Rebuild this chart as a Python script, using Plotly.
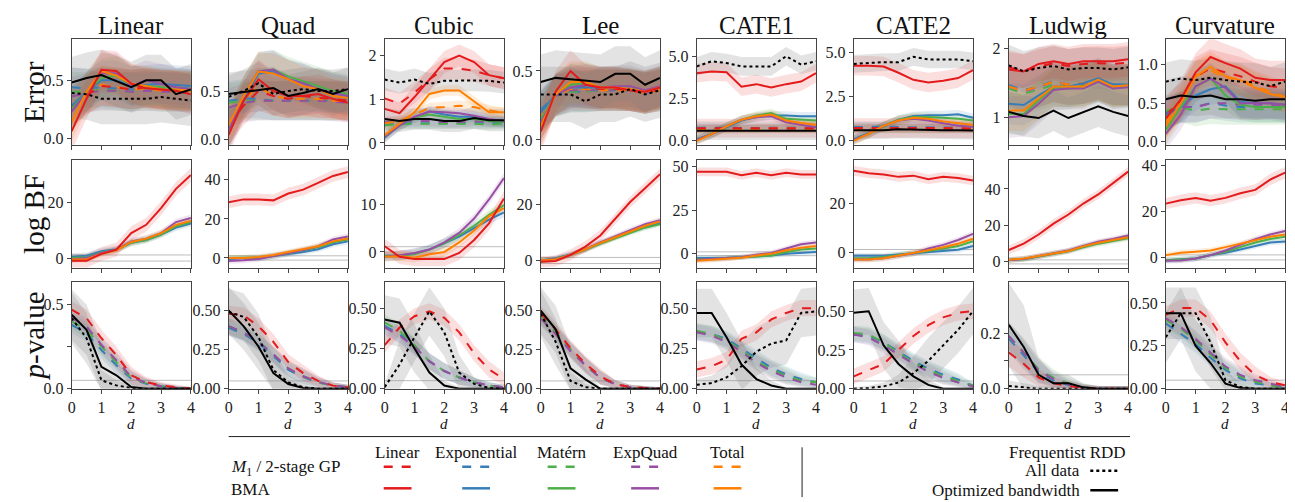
import plotly.graph_objects as go

W, H = 1295, 502
X = [0, 0.5, 1, 1.5, 2, 2.5, 3, 3.5, 4]
PANELS = ["Linear", "Quad", "Cubic", "Lee", "CATE1", "CATE2", "Ludwig", "Curvature"]
ROW_LABELS = ["Error", "log BF", "<i>p</i>-value"]

# ---------------- Error row ----------------
ERR_LINEAR = dict(
    lin_s=[0.06, 0.34, 0.59, 0.58, 0.47, 0.43, 0.42, 0.41, 0.38],
    lin_d=[0.28, 0.37, 0.45, 0.44, 0.42, 0.44, 0.42, 0.41, 0.41],
    exp_s=[0.28, 0.40, 0.50, 0.50, 0.45, 0.46, 0.47, 0.46, 0.45],
    exp_d=[0.44, 0.43, 0.44, 0.43, 0.42, 0.43, 0.43, 0.43, 0.43],
    mat_s=[0.25, 0.40, 0.52, 0.54, 0.45, 0.45, 0.44, 0.42, 0.41],
    mat_d=[0.40, 0.40, 0.42, 0.41, 0.40, 0.41, 0.40, 0.40, 0.40],
    eq_s=[0.23, 0.40, 0.56, 0.56, 0.45, 0.50, 0.47, 0.44, 0.42],
    eq_d=[0.36, 0.39, 0.41, 0.41, 0.40, 0.41, 0.40, 0.40, 0.39],
    tot_s=[0.14, 0.40, 0.58, 0.54, 0.47, 0.45, 0.42, 0.42, 0.41],
    tot_d=[0.26, 0.38, 0.46, 0.44, 0.42, 0.43, 0.41, 0.41, 0.40],
    all=[0.39, 0.38, 0.34, 0.34, 0.34, 0.34, 0.355, 0.34, 0.325],
    opt=[0.48, 0.52, 0.545, 0.49, 0.44, 0.50, 0.50, 0.38, 0.42],
)
ERR_QUAD = dict(
    lin_s=[0.05, 0.40, 0.62, 0.50, 0.45, 0.45, 0.47, 0.42, 0.38],
    lin_d=[0.15, 0.35, 0.50, 0.45, 0.42, 0.45, 0.43, 0.42, 0.40],
    exp_s=[0.10, 0.40, 0.68, 0.70, 0.62, 0.58, 0.52, 0.48, 0.45],
    exp_d=[0.40, 0.42, 0.42, 0.40, 0.40, 0.40, 0.40, 0.40, 0.40],
    mat_s=[0.12, 0.45, 0.70, 0.72, 0.65, 0.60, 0.55, 0.50, 0.47],
    mat_d=[0.38, 0.40, 0.40, 0.40, 0.40, 0.40, 0.40, 0.40, 0.40],
    eq_s=[0.10, 0.45, 0.70, 0.72, 0.62, 0.58, 0.52, 0.48, 0.45],
    eq_d=[0.33, 0.38, 0.40, 0.40, 0.40, 0.40, 0.40, 0.39, 0.38],
    tot_s=[0.15, 0.45, 0.70, 0.68, 0.62, 0.55, 0.52, 0.45, 0.43],
    tot_d=[0.15, 0.40, 0.55, 0.45, 0.42, 0.42, 0.42, 0.40, 0.40],
    all=[0.44, 0.50, 0.58, 0.47, 0.50, 0.52, 0.50, 0.50, 0.52],
    opt=[0.47, 0.49, 0.51, 0.53, 0.45, 0.48, 0.52, 0.47, 0.52],
)
ERR_CUBIC = dict(
    lin_s=[0.78, 0.68, 1.05, 1.45, 1.85, 2.00, 1.85, 1.55, 1.48],
    lin_d=[1.02, 0.90, 1.15, 1.45, 1.70, 1.70, 1.65, 1.55, 1.48],
    exp_s=[0.12, 0.40, 0.58, 0.72, 0.65, 0.60, 0.60, 0.50, 0.48],
    exp_d=[0.42, 0.45, 0.45, 0.45, 0.45, 0.45, 0.45, 0.45, 0.45],
    mat_s=[0.15, 0.42, 0.58, 0.65, 0.60, 0.55, 0.55, 0.50, 0.48],
    mat_d=[0.40, 0.44, 0.44, 0.44, 0.44, 0.44, 0.44, 0.42, 0.44],
    eq_s=[0.15, 0.40, 0.60, 0.72, 0.70, 0.68, 0.62, 0.55, 0.50],
    eq_d=[0.48, 0.50, 0.50, 0.50, 0.48, 0.48, 0.50, 0.48, 0.48],
    tot_s=[0.18, 0.45, 0.70, 1.12, 1.20, 1.20, 0.95, 0.70, 0.70],
    tot_d=[0.45, 0.50, 0.65, 0.80, 0.82, 0.85, 0.82, 0.75, 0.68],
    all=[1.45, 1.38, 1.45, 1.35, 1.42, 1.43, 1.43, 1.42, 1.38],
    opt=[0.55, 0.50, 0.55, 0.55, 0.50, 0.50, 0.57, 0.52, 0.52],
)
ERR_LEE = dict(
    lin_s=[0.06, 0.35, 0.50, 0.40, 0.38, 0.38, 0.36, 0.35, 0.38],
    lin_d=[0.15, 0.33, 0.40, 0.38, 0.37, 0.37, 0.36, 0.34, 0.37],
    exp_s=[0.20, 0.33, 0.38, 0.38, 0.38, 0.38, 0.37, 0.35, 0.38],
    exp_d=[0.22, 0.32, 0.35, 0.35, 0.36, 0.36, 0.36, 0.34, 0.36],
    mat_s=[0.15, 0.33, 0.40, 0.41, 0.38, 0.38, 0.37, 0.35, 0.38],
    mat_d=[0.20, 0.32, 0.35, 0.35, 0.36, 0.36, 0.36, 0.34, 0.36],
    eq_s=[0.12, 0.33, 0.38, 0.40, 0.38, 0.39, 0.39, 0.36, 0.39],
    eq_d=[0.20, 0.32, 0.36, 0.36, 0.36, 0.36, 0.36, 0.34, 0.36],
    tot_s=[0.10, 0.33, 0.42, 0.42, 0.38, 0.38, 0.37, 0.35, 0.38],
    tot_d=[0.16, 0.32, 0.37, 0.37, 0.36, 0.36, 0.36, 0.34, 0.36],
    all=[0.33, 0.33, 0.33, 0.28, 0.33, 0.33, 0.37, 0.33, 0.36],
    opt=[0.42, 0.45, 0.44, 0.43, 0.42, 0.48, 0.48, 0.40, 0.45],
)
ERR_CATE1 = dict(
    lin_s=[4.00, 4.10, 4.05, 3.20, 3.35, 3.15, 3.35, 3.50, 4.00],
    lin_d=[0.75, 0.75, 0.72, 0.72, 0.72, 0.74, 0.76, 0.74, 0.74],
    exp_s=[0.10, 0.40, 0.80, 1.20, 1.40, 1.50, 1.50, 1.45, 1.45],
    exp_d=[0.78, 0.80, 0.78, 0.76, 0.76, 0.78, 0.80, 0.78, 0.78],
    mat_s=[0.05, 0.40, 0.85, 1.25, 1.50, 1.65, 1.30, 1.25, 1.20],
    mat_d=[0.70, 0.70, 0.70, 0.68, 0.68, 0.70, 0.72, 0.70, 0.70],
    eq_s=[0.05, 0.40, 0.85, 1.25, 1.40, 1.45, 1.10, 0.95, 0.80],
    eq_d=[0.72, 0.72, 0.70, 0.70, 0.70, 0.72, 0.74, 0.72, 0.72],
    tot_s=[0.00, 0.40, 0.85, 1.25, 1.45, 1.55, 1.20, 1.05, 0.95],
    tot_d=[0.65, 0.68, 0.70, 0.68, 0.70, 0.72, 0.75, 0.72, 0.72],
    all=[4.40, 4.70, 4.60, 4.40, 4.40, 4.40, 5.00, 4.50, 4.70],
    opt=[0.60, 0.60, 0.60, 0.58, 0.58, 0.60, 0.60, 0.60, 0.60],
)
ERR_CATE2 = dict(
    lin_s=[4.25, 4.25, 4.20, 3.85, 3.45, 3.30, 3.40, 3.55, 4.00],
    lin_d=[0.72, 0.74, 0.72, 0.72, 0.74, 0.72, 0.72, 0.72, 0.70],
    exp_s=[0.10, 0.45, 0.80, 1.20, 1.40, 1.45, 1.45, 1.50, 1.30],
    exp_d=[0.78, 0.80, 0.80, 0.78, 0.78, 0.76, 0.76, 0.76, 0.74],
    mat_s=[0.05, 0.40, 0.85, 1.20, 1.35, 1.35, 1.30, 1.25, 1.15],
    mat_d=[0.68, 0.70, 0.70, 0.70, 0.70, 0.70, 0.68, 0.68, 0.68],
    eq_s=[0.05, 0.40, 0.85, 1.15, 1.25, 1.15, 1.00, 0.85, 0.80],
    eq_d=[0.72, 0.72, 0.72, 0.72, 0.72, 0.70, 0.70, 0.70, 0.70],
    tot_s=[0.00, 0.40, 0.85, 1.15, 1.30, 1.25, 1.10, 1.00, 0.90],
    tot_d=[0.66, 0.70, 0.72, 0.72, 0.74, 0.72, 0.72, 0.70, 0.70],
    all=[4.35, 4.40, 4.45, 4.45, 4.75, 4.60, 4.60, 4.60, 4.50],
    opt=[0.60, 0.60, 0.60, 0.65, 0.62, 0.60, 0.60, 0.60, 0.58],
)
ERR_LUDWIG = dict(
    lin_s=[1.70, 1.67, 1.78, 1.82, 1.78, 1.82, 1.82, 1.82, 1.85],
    lin_d=[1.73, 1.68, 1.74, 1.79, 1.75, 1.78, 1.79, 1.78, 1.80],
    exp_s=[1.20, 1.18, 1.32, 1.45, 1.45, 1.50, 1.57, 1.48, 1.48],
    exp_d=[1.47, 1.40, 1.45, 1.53, 1.48, 1.50, 1.55, 1.48, 1.48],
    mat_s=[1.05, 1.05, 1.25, 1.42, 1.42, 1.45, 1.53, 1.43, 1.45],
    mat_d=[1.42, 1.35, 1.40, 1.48, 1.45, 1.47, 1.52, 1.45, 1.46],
    eq_s=[1.00, 1.02, 1.20, 1.40, 1.42, 1.42, 1.52, 1.42, 1.44],
    eq_d=[1.45, 1.38, 1.44, 1.52, 1.48, 1.49, 1.54, 1.47, 1.47],
    tot_s=[1.10, 1.10, 1.28, 1.45, 1.45, 1.45, 1.55, 1.45, 1.47],
    tot_d=[1.45, 1.39, 1.45, 1.52, 1.48, 1.50, 1.55, 1.47, 1.48],
    all=[1.76, 1.67, 1.72, 1.75, 1.70, 1.72, 1.72, 1.70, 1.73],
    opt=[1.08, 1.02, 0.99, 1.10, 0.99, 1.08, 1.16, 1.08, 1.02],
)
ERR_CURVATURE = dict(
    lin_s=[0.30, 0.55, 0.90, 1.10, 1.02, 0.95, 0.83, 0.80, 0.80],
    lin_d=[0.35, 0.52, 0.85, 0.95, 0.90, 0.85, 0.78, 0.72, 0.70],
    exp_s=[0.35, 0.45, 0.60, 0.68, 0.72, 0.52, 0.50, 0.50, 0.48],
    exp_d=[0.38, 0.45, 0.45, 0.50, 0.47, 0.45, 0.45, 0.45, 0.45],
    mat_s=[0.15, 0.45, 0.72, 0.82, 0.60, 0.48, 0.45, 0.45, 0.45],
    mat_d=[0.40, 0.45, 0.40, 0.43, 0.42, 0.42, 0.42, 0.42, 0.42],
    eq_s=[0.10, 0.35, 0.72, 0.82, 0.70, 0.50, 0.50, 0.50, 0.48],
    eq_d=[0.35, 0.45, 0.45, 0.50, 0.50, 0.48, 0.48, 0.48, 0.45],
    tot_s=[0.20, 0.50, 0.85, 0.97, 0.85, 0.80, 0.70, 0.62, 0.58],
    tot_d=[0.25, 0.55, 0.85, 0.93, 0.82, 0.82, 0.72, 0.65, 0.58],
    all=[0.78, 0.82, 0.80, 0.83, 0.80, 0.78, 0.77, 0.72, 0.78],
    opt=[0.55, 0.60, 0.58, 0.60, 0.55, 0.55, 0.53, 0.55, 0.55],
)

# ---------------- log BF row (BMA only) ----------------
BF_LINEAR = dict(
    lin_s=[-1, -1, 1.5, 3, 9, 12, 18, 25, 30],
    exp_s=[0.5, 0.8, 2.5, 3.2, 5.5, 6.5, 8.5, 11, 12.5],
    mat_s=[0, 0.3, 2, 3, 5.5, 6.5, 8.5, 11.5, 13],
    eq_s=[-0.5, 0, 1.8, 3, 6, 7, 9, 13, 14.5],
    tot_s=[-0.5, -0.5, 1.5, 2.8, 5.8, 7, 9, 12, 13.5],
)
BF_QUAD = dict(
    lin_s=[28.5, 30, 30, 29.5, 33, 35, 38.5, 42, 44],
    exp_s=[-0.5, 0, 0, 1, 2, 3, 4.5, 7, 8.5],
    mat_s=[0, 0, 0.3, 1, 2.5, 4, 5.5, 8, 9.5],
    eq_s=[-1.5, -1.2, -0.5, 1, 2.5, 4, 6, 9.5, 11],
    tot_s=[0, 0, 0.5, 1.5, 3, 4.5, 6, 8.5, 10],
)
BF_CUBIC = dict(
    lin_s=[1.2, -1.0, -1.5, -1.5, -1.5, -0.2, 2.5, 6, 11.2],
    exp_s=[-0.8, -0.8, -0.3, 0.5, 1.8, 3.2, 5, 6.8, 8.3],
    mat_s=[-0.8, -0.8, -0.5, 0.5, 1.8, 3.5, 5.5, 7.8, 9.8],
    eq_s=[-1, -0.7, -0.2, 0.5, 2, 4, 7, 11, 15.5],
    tot_s=[-1, -0.9, -1.2, -0.5, 0, 2, 4.5, 7.5, 9.2],
)
BF_LEE = dict(
    lin_s=[-0.5, -0.2, 2, 5, 9, 15, 21, 26, 31],
    exp_s=[0, 0.8, 2.2, 4, 6.3, 8.3, 10.3, 12, 13.5],
    mat_s=[0, 0.6, 2, 3.8, 6, 8, 10, 11.8, 13],
    eq_s=[0, 0.5, 2, 4, 6.5, 8.7, 10.8, 13, 14.5],
    tot_s=[0, 0.4, 2, 4, 6.3, 8.4, 10.5, 12.5, 14],
)
BF_CATE1 = dict(
    lin_s=[47, 47, 47, 45, 46.5, 45, 46.5, 45.5, 45.5],
    exp_s=[-2.5, -2.5, -2.3, -2, -1.5, -1, 0, 0.5, 1],
    mat_s=[-3, -3, -2.5, -2, -1.5, -1, 1, 2.5, 3],
    eq_s=[-3.5, -3, -2.5, -2, -0.5, 0.5, 3, 5.5, 6.5],
    tot_s=[-4, -3.5, -3, -2.3, -1, 0, 2, 3.5, 4.5],
)
BF_CATE2 = dict(
    lin_s=[33.5, 32.5, 32, 31, 31.5, 30, 31, 30.5, 29.5],
    exp_s=[-1.5, -1.5, -1.5, -1, -0.5, 0, 0.5, 1, 2.5],
    mat_s=[-2.5, -2.5, -2, -1.2, -0.5, 0.5, 1.5, 2.5, 4.5],
    eq_s=[-3, -3, -2.5, -1.5, -0.5, 1.5, 3, 5, 7.5],
    tot_s=[-3, -3, -2.5, -1.5, -0.5, 0.8, 2, 3.5, 5.5],
)
BF_LUDWIG = dict(
    lin_s=[6.5, 10, 15, 21, 26, 32, 37, 43, 49.5],
    exp_s=[1, 1.7, 3, 4.5, 6, 8.5, 10.5, 12, 13.5],
    mat_s=[1, 1.5, 3, 4.3, 5.8, 8, 10, 11.5, 13],
    eq_s=[1, 1.6, 3.2, 4.7, 6.3, 8.8, 11, 12.5, 14.5],
    tot_s=[1.2, 1.8, 3.2, 4.6, 6, 8.5, 10.5, 12, 13.5],
)
BF_CURVATURE = dict(
    lin_s=[23.5, 25, 26, 24.8, 26, 28, 29.5, 34, 37],
    exp_s=[-1.2, -1, -0.5, 1, 2, 3.5, 5, 6.5, 7],
    mat_s=[-1.2, -1, -0.5, 1, 2.5, 4.5, 6.5, 8, 9],
    eq_s=[-1.5, -1.3, -0.5, 1, 3, 5.5, 8, 10, 11.5],
    tot_s=[1, 2, 2.5, 3, 4.5, 6, 7.5, 9, 10],
)

# ---------------- p-value row ----------------
PV_LINEAR = dict(
    lin_d=[0.47, 0.42, 0.30, 0.20, 0.08, 0.04, 0.02, 0.01, 0.0],
    exp_d=[0.38, 0.33, 0.23, 0.14, 0.06, 0.03, 0.015, 0.005, 0.0],
    mat_d=[0.40, 0.35, 0.25, 0.16, 0.065, 0.033, 0.015, 0.005, 0.0],
    eq_d=[0.42, 0.37, 0.26, 0.17, 0.07, 0.035, 0.015, 0.005, 0.0],
    all=[0.42, 0.30, 0.05, 0.02, 0.005, 0, 0, 0, 0],
    opt=[0.44, 0.35, 0.13, 0.08, 0.01, 0, 0, 0, 0],
)
PV_QUAD = dict(
    lin_d=[0.48, 0.47, 0.40, 0.30, 0.17, 0.10, 0.05, 0.02, 0.01],
    exp_d=[0.39, 0.35, 0.29, 0.21, 0.12, 0.075, 0.04, 0.02, 0.01],
    mat_d=[0.40, 0.36, 0.30, 0.22, 0.13, 0.08, 0.04, 0.02, 0.01],
    eq_d=[0.40, 0.36, 0.30, 0.22, 0.13, 0.08, 0.045, 0.02, 0.01],
    all=[0.49, 0.46, 0.33, 0.12, 0.04, 0.01, 0, 0, 0],
    opt=[0.50, 0.40, 0.27, 0.10, 0.03, 0.005, 0, 0, 0],
)
PV_CUBIC = dict(
    lin_d=[0.27, 0.38, 0.45, 0.48, 0.44, 0.35, 0.22, 0.12, 0.06],
    exp_d=[0.39, 0.34, 0.26, 0.17, 0.11, 0.07, 0.04, 0.02, 0.01],
    mat_d=[0.41, 0.36, 0.27, 0.17, 0.11, 0.07, 0.04, 0.02, 0.01],
    eq_d=[0.38, 0.33, 0.26, 0.17, 0.11, 0.07, 0.04, 0.02, 0.01],
    all=[0.01, 0.15, 0.32, 0.48, 0.35, 0.10, 0.03, 0.005, 0],
    opt=[0.43, 0.41, 0.25, 0.10, 0.02, 0, 0, 0, 0],
)
PV_LEE = dict(
    lin_d=[0.48, 0.38, 0.26, 0.16, 0.08, 0.03, 0.01, 0.005, 0],
    exp_d=[0.46, 0.36, 0.25, 0.15, 0.07, 0.03, 0.01, 0.005, 0],
    mat_d=[0.46, 0.36, 0.25, 0.15, 0.07, 0.03, 0.01, 0.005, 0],
    eq_d=[0.45, 0.35, 0.24, 0.15, 0.07, 0.03, 0.01, 0.005, 0],
    all=[0.48, 0.30, 0.05, 0.01, 0, 0, 0, 0, 0],
    opt=[0.50, 0.38, 0.13, 0.06, 0, 0, 0, 0, 0],
)
PV_CATE1 = dict(
    lin_d=[0.12, 0.14, 0.18, 0.31, 0.35, 0.43, 0.47, 0.50, 0.50],
    exp_d=[0.35, 0.34, 0.31, 0.25, 0.19, 0.13, 0.09, 0.06, 0.04],
    mat_d=[0.36, 0.34, 0.30, 0.24, 0.17, 0.12, 0.08, 0.05, 0.04],
    eq_d=[0.35, 0.33, 0.29, 0.23, 0.16, 0.11, 0.07, 0.04, 0.025],
    all=[0.025, 0.035, 0.07, 0.14, 0.23, 0.28, 0.30, 0.47, 0.48],
    opt=[0.47, 0.47, 0.32, 0.15, 0.06, 0.02, 0, 0, 0],
)
PV_CATE2 = dict(
    lin_d=[0.08, 0.12, 0.16, 0.25, 0.34, 0.41, 0.46, 0.49, 0.50],
    exp_d=[0.35, 0.34, 0.30, 0.24, 0.18, 0.13, 0.09, 0.06, 0.02],
    mat_d=[0.36, 0.35, 0.30, 0.23, 0.17, 0.12, 0.08, 0.05, 0.02],
    eq_d=[0.35, 0.33, 0.28, 0.22, 0.16, 0.11, 0.07, 0.04, 0.015],
    all=[0, 0.005, 0.015, 0.04, 0.10, 0.18, 0.28, 0.38, 0.50],
    opt=[0.49, 0.50, 0.28, 0.16, 0.08, 0.025, 0, 0, 0],
)
PV_LUDWIG = dict(
    lin_d=[0.13, 0.09, 0.04, 0.02, 0.01, 0.003, 0, 0, 0],
    exp_d=[0.18, 0.12, 0.06, 0.03, 0.013, 0.004, 0, 0, 0],
    mat_d=[0.19, 0.13, 0.07, 0.04, 0.02, 0.005, 0, 0, 0],
    eq_d=[0.19, 0.13, 0.065, 0.035, 0.015, 0.004, 0, 0, 0],
    all=[0.01, 0.005, 0, 0, 0, 0, 0, 0, 0],
    opt=[0.23, 0.15, 0.05, 0.02, 0.02, 0.005, 0, 0, 0],
)
PV_CURVATURE = dict(
    lin_d=[0.43, 0.47, 0.47, 0.40, 0.27, 0.16, 0.08, 0.04, 0.02],
    exp_d=[0.38, 0.32, 0.26, 0.18, 0.11, 0.06, 0.03, 0.02, 0.01],
    mat_d=[0.40, 0.35, 0.28, 0.20, 0.12, 0.07, 0.04, 0.02, 0.01],
    eq_d=[0.41, 0.36, 0.29, 0.21, 0.13, 0.08, 0.05, 0.03, 0.01],
    all=[0.30, 0.44, 0.44, 0.27, 0.05, 0.01, 0, 0, 0],
    opt=[0.44, 0.44, 0.25, 0.15, 0.03, 0.005, 0, 0, 0],
)

ERR = [ERR_LINEAR, ERR_QUAD, ERR_CUBIC, ERR_LEE, ERR_CATE1, ERR_CATE2, ERR_LUDWIG, ERR_CURVATURE]
BF = [BF_LINEAR, BF_QUAD, BF_CUBIC, BF_LEE, BF_CATE1, BF_CATE2, BF_LUDWIG, BF_CURVATURE]
PV = [PV_LINEAR, PV_QUAD, PV_CUBIC, PV_LEE, PV_CATE1, PV_CATE2, PV_LUDWIG, PV_CURVATURE]

# band half-widths: error (colored, red, black), logBF (colored, red), p (colored cap, black cap)
ERR_BAND = [(0.17, 0.17, 0.22), (0.2, 0.2, 0.22), (0.12, 0.25, 0.25), (0.15, 0.15, 0.2),
            (0.25, 0.55, 0.55), (0.25, 0.55, 0.5), (0.3, 0.25, 0.3), (0.2, 0.25, 0.25)]
BF_BAND = [(1.2, 2.5), (1.5, 3.0), (1.0, 1.5), (1.0, 2.0), (1.5, 2.5), (1.2, 2.0), (1.5, 2.5), (1.2, 2.5)]
PV_BAND = (0.05, 0.15)

# axis ranges and ticks (labelled ticks, plus unlabelled minor ticks)
ERR_RANGE = [[-0.056, 0.853], [-0.05, 1.03], [-0.04, 2.37], [-0.035, 0.73],
             [-0.23, 6.0], [-0.22, 5.74], [0.6, 2.14], [-0.04, 1.33]]
ERR_TICKS = [([0, 0.5], ["0.0", "0.5"]), ([0, 0.5], ["0.0", "0.5"]), ([0, 1, 2], ["0", "1", "2"]),
             ([0, 0.5], ["0.0", "0.5"]), ([0, 2.5, 5], ["0.0", "2.5", "5.0"]),
             ([0, 2.5, 5], ["0.0", "2.5", "5.0"]), ([1, 2], ["1", "2"]),
             ([0, 0.5, 1], ["0.0", "0.5", "1.0"])]
BF_RANGE = [[-3.5, 35.3], [-5, 50], [-3.3, 19.2], [-2.6, 36], [-8, 53.6], [-6.4, 37.8],
            [-3.2, 55.7], [-4.5, 42.4]]
BF_TICKS = [([0, 20], ["0", "20"]), ([0, 20, 40], ["0", "20", "40"]), ([0, 10], ["0", "10"]),
            ([0, 20], ["0", "20"]), ([0, 25, 50], ["0", "25", "50"]), ([0, 20], ["0", "20"]),
            ([0, 20, 40], ["0", "20", "40"]), ([0, 20, 40], ["0", "20", "40"])]
PV_RANGE = [[0, 0.632], [0, 0.68], [0, 0.66], [0, 0.68], [0, 0.66], [0, 0.686], [0, 0.382], [0, 0.62]]
P2 = ([0, 0.25, 0.5], ["0.00", "0.25", "0.50"])
PV_TICKS = [([0, 0.5], ["0.0", "0.5"]), P2, P2, P2, P2, P2, ([0, 0.2], ["0.0", "0.2"]), P2]
PV_MINOR = {0: [0.25], 6: [0.1]}
X_TICKS = [0, 1, 2, 3, 4]
BF_THRESH = [-1.1, 1.1]
P_THRESH = 0.05

COLORS = {"lin": "#e41a1c", "exp": "#377eb8", "mat": "#4daf4a", "eq": "#984ea3", "tot": "#ff7f00"}
ORDER = ["exp_d", "mat_d", "eq_d", "tot_d", "lin_d",
         "exp_s", "mat_s", "eq_s", "tot_s", "lin_s", "all", "opt"]

LEG_MODELS = [("Linear", "lin"), ("Exponential", "exp"), ("Matérn", "mat"),
              ("ExpQuad", "eq"), ("Total", "tot")]

FONT = "Liberation Serif"


def rgba(hexc, a):
    h = hexc.lstrip("#")
    return "rgba(%d,%d,%d,%.3f)" % (int(h[0:2], 16), int(h[2:4], 16), int(h[4:6], 16), a)


def style(key):
    if key == "all":
        return "#000000", "dot"
    if key == "opt":
        return "#000000", "solid"
    fam, kind = key.split("_")
    return COLORS[fam], ("dash" if kind == "d" else "solid")


def halfwidth(row, col, key, y):
    black = key in ("all", "opt")
    if row == 0:
        c, r, b = ERR_BAND[col]
        h = b if black else (r if key.startswith("lin") else c)
        return [h] * len(y)
    if row == 1:
        c, r = BF_BAND[col]
        return [r if key.startswith("lin") else c] * len(y)
    cap = PV_BAND[1] if black else PV_BAND[0]
    k = 1.0 if black else 0.5
    return [min(cap, k * v + 0.01) for v in y]


COL_L = [60, 218, 375, 532, 689, 847, 1003, 1161]
PW = 120
ROW_T = [29, 153, 278]
ROW_B = [137, 263, 387]

fig = go.Figure()
layout = {}
shapes = []
annotations = []

ROWS = [ERR, BF, PV]
RANGES = [ERR_RANGE, BF_RANGE, PV_RANGE]
TICKS = [ERR_TICKS, BF_TICKS, PV_TICKS]

for r in range(3):
    for c in range(8):
        n = r * 8 + c + 1
        xs = "x" if n == 1 else "x%d" % n
        ys = "y" if n == 1 else "y%d" % n
        data = ROWS[r][c]
        keys = [k for k in ORDER if k in data]
        # bands
        for k in keys:
            y = data[k]
            hw = halfwidth(r, c, k, y)
            up = [v + h for v, h in zip(y, hw)]
            lo = [v - h for v, h in zip(y, hw)]
            col, _ = style(k)
            fill = rgba("#808080", 0.22) if k in ("all", "opt") else rgba(col, 0.14)
            fig.add_trace(go.Scatter(x=X + X[::-1], y=up + lo[::-1], fill="toself",
                                     fillcolor=fill, line=dict(width=0), mode="lines",
                                     hoverinfo="skip", showlegend=False, xaxis=xs, yaxis=ys))
        # lines
        for k in keys:
            col, dash = style(k)
            fig.add_trace(go.Scatter(x=X, y=data[k], mode="lines",
                                     line=dict(color=col, dash=dash, width=2),
                                     showlegend=False, hoverinfo="skip", xaxis=xs, yaxis=ys))
        # threshold lines
        thr = BF_THRESH if r == 1 else ([P_THRESH] if r == 2 else [])
        for t in thr:
            shapes.append(dict(type="line", xref="%s domain" % xs, yref=ys, x0=0, x1=1, y0=t, y1=t,
                               line=dict(color="#bdbdbd", width=1), layer="below"))

        xd = [COL_L[c] / W, (COL_L[c] + PW) / W]
        yd = [1 - ROW_B[r] / H, 1 - ROW_T[r] / H]
        tv, tt = TICKS[r][c]
        axcommon = dict(showgrid=False, zeroline=False, showline=True, linecolor="#444",
                        linewidth=1, mirror=True, ticks="outside", ticklen=4, tickcolor="#444",
                        tickfont=dict(family=FONT, size=16, color="#222"))
        layout["xaxis" if n == 1 else "xaxis%d" % n] = dict(
            domain=xd, range=[0, 4], anchor=ys, tickvals=X_TICKS,
            showticklabels=(r == 2), **axcommon)
        yax = dict(domain=yd, range=RANGES[r][c], anchor=xs, tickvals=tv, ticktext=tt, **axcommon)
        if r == 2 and c in PV_MINOR:
            yax["minor"] = dict(tickvals=PV_MINOR[c], ticks="outside", ticklen=4,
                                tickcolor="#444", showgrid=False)
        layout["yaxis" if n == 1 else "yaxis%d" % n] = yax

# column titles
for c, name in enumerate(PANELS):
    annotations.append(dict(text=name, x=(COL_L[c] + PW / 2) / W, y=1 - 15 / H, xref="paper",
                            yref="paper", showarrow=False, xanchor="center", yanchor="middle",
                            font=dict(family=FONT, size=25, color="#111")))
    annotations.append(dict(text="<i>d</i>", x=(COL_L[c] + PW / 2) / W, y=1 - 413 / H,
                            xref="paper", yref="paper", showarrow=False, xanchor="center",
                            yanchor="top", font=dict(family=FONT, size=15, color="#111")))
# row labels
for r, lab in enumerate(ROW_LABELS):
    annotations.append(dict(text=lab, x=22 / W, y=1 - (ROW_T[r] + ROW_B[r]) / 2 / H, xref="paper",
                            yref="paper", showarrow=False, textangle=-90, xanchor="center",
                            yanchor="middle", font=dict(family=FONT, size=29, color="#111")))


# legend
def pl(x0, y0, x1, y1, color="#222", width=1, dash="solid"):
    shapes.append(dict(type="line", xref="paper", yref="paper", x0=x0 / W, x1=x1 / W,
                       y0=1 - y0 / H, y1=1 - y1 / H, line=dict(color=color, width=width, dash=dash)))


def ptext(t, x, y, anchor="center", size=17):
    annotations.append(dict(text=t, x=x / W, y=1 - y / H, xref="paper", yref="paper",
                            showarrow=False, xanchor=anchor, yanchor="middle",
                            font=dict(family=FONT, size=size, color="#111")))


pl(218, 436, 1125, 436, width=1)
pl(795, 447, 795, 498, width=1)
LEG_X = [388, 467, 553, 637, 720]
for (name, fam), cx in zip(LEG_MODELS, LEG_X):
    ptext(name, cx, 452)
    pl(cx - 14, 467, cx + 14, 467, color=COLORS[fam], width=2.5, dash="dash")
    pl(cx - 14, 489, cx + 14, 489, color=COLORS[fam], width=2.5)
ptext("<i>M</i><sub>1</sub> / 2-stage GP", 218, 468, anchor="left")
ptext("BMA", 218, 490, anchor="left")
ptext("Frequentist RDD", 1062, 452)
ptext("All data", 1077, 471, anchor="right")
ptext("Optimized bandwidth", 1077, 491, anchor="right")
pl(1085, 471, 1113, 471, color="#000", width=2.5, dash="dot")
pl(1085, 491, 1113, 491, color="#000", width=2.5)

fig.update_layout(width=W, height=H, autosize=False, margin=dict(l=0, r=0, t=0, b=0),
                  paper_bgcolor="white", plot_bgcolor="white", showlegend=False,
                  font=dict(family=FONT, color="#111"), shapes=shapes, annotations=annotations,
                  **layout)
fig.write_html("out.html")
